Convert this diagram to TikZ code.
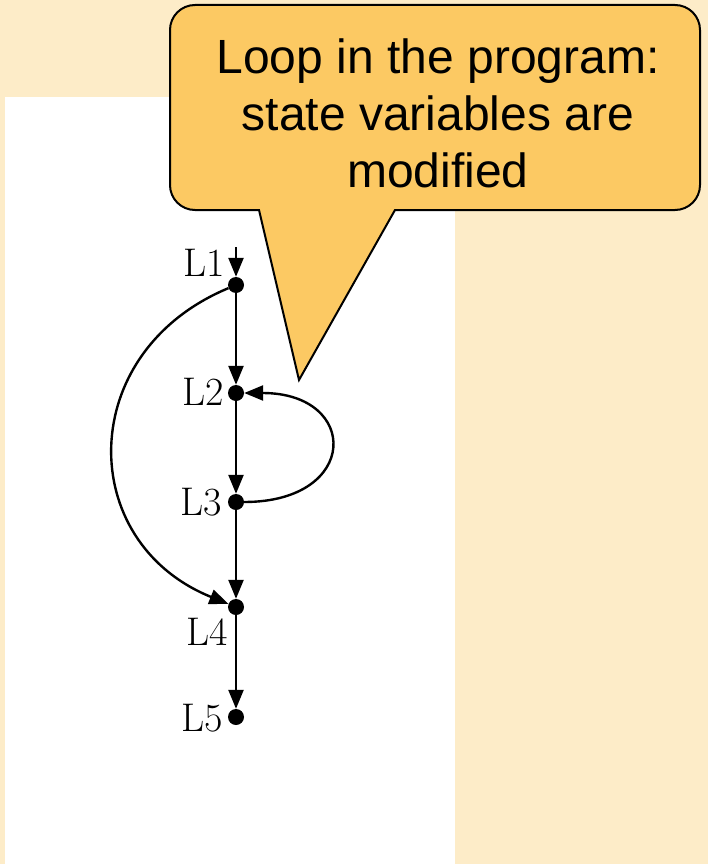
\documentclass[tikz,border=0pt]{standalone}
\usepackage{fontspec}
\newfontfamily\calloutfont{Liberation Sans}
\usetikzlibrary{arrows.meta}
\definecolor{bgcream}{RGB}{253,236,200}
\definecolor{calloutfill}{RGB}{252,201,99}
\begin{document}
\begin{tikzpicture}[x=1pt,y=-1pt,
  dot/.style={circle,fill=black,inner sep=0pt,minimum size=16pt},
  lab/.style={font=\fontsize{40}{46}\selectfont,inner sep=0pt,anchor=east},
  edge/.style={line width=2.4pt,-{Triangle[length=19pt,width=15pt]}},
  callout/.style={draw=black,line width=2pt,fill=calloutfill,line join=miter},
  callouttext/.style={font=\calloutfont\fontsize{48}{57}\selectfont,align=center,inner sep=0pt}]
\useasboundingbox (0,0) rectangle (708,864);
\fill[bgcream] (0,0) rectangle (708,864);
\fill[white] (5,97) rectangle (455,864);

% graph nodes
\node[dot] (L1) at (236,285) {};
\node[dot] (L2) at (236,393) {};
\node[dot] (L3) at (236,502) {};
\node[dot] (L4) at (236,607) {};
\node[dot] (L5) at (236,717) {};
\coordinate (entry) at (236,247);

\node[lab] (t1) at (225,263) {L1};
\node[lab] (t2) at (224,392) {L2};
\node[lab] (t3) at (222,502) {L3};
\node[lab] (t4) at (228,632) {L4};
\node[lab] (t5) at (223,718) {L5};

% edges
\draw[edge] (entry) -- (L1);
\draw[edge] (L1) -- (L2);
\draw[edge] (L2) -- (L3);
\draw[edge] (L3) -- (L4);
\draw[edge] (L4) -- (L5);
\draw[edge] (L1) .. controls (75,352) and (75,542) .. (L4);
\draw[edge] (L3) .. controls (360,502) and (360,393) .. (L2);

% callout
\draw[callout] (259,210) -- (299,380) -- (395,210) -- (675,210)
  arc[start angle=90,end angle=0,radius=25] -- (700,30)
  arc[start angle=0,end angle=-90,radius=25] -- (195,5)
  arc[start angle=-90,end angle=-180,radius=25] -- (170,185)
  arc[start angle=180,end angle=90,radius=25] -- cycle;
\node[callouttext] (note) at (438,113) {Loop in the program:\\state variables are\\modified};
\end{tikzpicture}
\end{document}
